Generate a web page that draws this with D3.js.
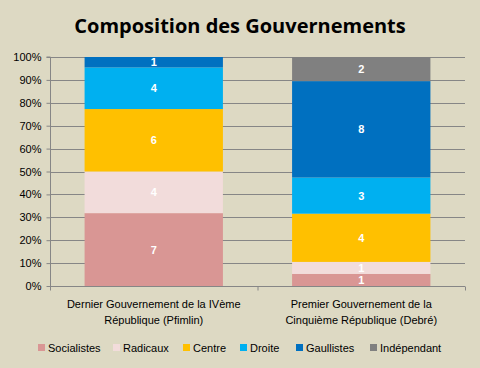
<!DOCTYPE html>
<html><head><meta charset="utf-8">
<script src="https://cdn.jsdelivr.net/npm/d3@7"></script>
<style>body{margin:0;background:#DDD9C3;} svg{display:block;}</style>
</head><body>
<svg id="c" width="480" height="368"></svg>
<script>
const categories = ["Dernier Gouvernement de la IVème République (Pfimlin)", "Premier Gouvernement de la Cinquième République (Debré)"];
const categoryLines = [["Dernier Gouvernement de la IVème", "République (Pfimlin)"], ["Premier Gouvernement de la", "Cinquième République (Debré)"]];
const seriesNames = ["Socialistes", "Radicaux", "Centre", "Droite", "Gaullistes", "Indépendant"];
const socialistes = [7, 1];
const radicaux = [4, 1];
const centre = [6, 4];
const droite = [4, 3];
const gaullistes = [1, 8];
const independant = [0, 2];
const colors = ["#D99694", "#F2DCDB", "#FFC000", "#00B0F0", "#0070C0", "#808080"];
const yTicks = [0, 0.1, 0.2, 0.3, 0.4, 0.5, 0.6, 0.7, 0.8, 0.9, 1];

const seriesVals = [socialistes, radicaux, centre, droite, gaullistes, independant];
const data = categories.map((c, i) => {
  const o = {cat: c};
  seriesNames.forEach((s, j) => o[s] = seriesVals[j][i]);
  return o;
});
const stack = d3.stack().keys(seriesNames).offset(d3.stackOffsetExpand);
const layers = stack(data);

const svg = d3.select("#c");
svg.append("rect").attr("width", 480).attr("height", 368).attr("fill", "#DDD9C3");
const font = "'Liberation Sans', Arial, sans-serif";
const L = 50, R = 465, T = 57, B = 286;
const xb = d3.scaleBand().domain(categories).range([L, R]);
const barW = xb.bandwidth() * 2 / 3;
const bx = c => xb(c) + (xb.bandwidth() - barW) / 2;
const y = d3.scaleLinear().domain([0, 1]).range([B, T]);

svg.append("text").attr("x", 240).attr("y", 33).attr("text-anchor", "middle")
  .attr("font-family", "'Open Sans', sans-serif").attr("font-weight", "bold").attr("font-size", 20)
  .attr("fill", "#000").text("Composition des Gouvernements");

// gridlines
svg.append("g").selectAll("line").data(yTicks.slice(1)).join("line")
  .attr("x1", L).attr("x2", R).attr("y1", d => Math.round(y(d)) + 0.5).attr("y2", d => Math.round(y(d)) + 0.5)
  .attr("stroke", "#868686").attr("stroke-width", 1);

// bars
const g = svg.append("g");
layers.forEach((layer, j) => {
  g.append("g").attr("fill", colors[j]).selectAll("rect").data(layer).join("rect")
    .attr("x", d => bx(d.data.cat)).attr("width", barW)
    .attr("y", d => y(d[1])).attr("height", d => y(d[0]) - y(d[1]));
  g.append("g").selectAll("text").data(layer.filter(d => d.data[layer.key] > 0)).join("text")
    .attr("x", d => bx(d.data.cat) + barW / 2)
    .attr("y", d => (y(d[0]) + y(d[1])) / 2 + 4)
    .attr("text-anchor", "middle").attr("font-family", font).attr("font-weight", "bold")
    .attr("font-size", 11).attr("fill", "#fff").text(d => d.data[layer.key]);
});

// y axis
const yAxis = d3.axisLeft(y).tickValues(yTicks).tickFormat(d3.format(".0%")).tickSize(4).tickPadding(5);
const ya = svg.append("g").attr("transform", `translate(${L + 0.5},0)`).call(yAxis);
ya.select(".domain").attr("stroke", "#868686").attr("d", `M-4,${T}H0V${B + 4}`);
ya.selectAll(".tick line").attr("stroke", "#868686");
ya.selectAll("text").attr("font-family", font).attr("font-size", 11).attr("fill", "#000");

// x axis
const xa = svg.append("g").attr("transform", `translate(0,${B + 0.5})`);
xa.append("line").attr("x1", L).attr("x2", R).attr("stroke", "#868686");
xa.selectAll("line.t").data([L, xb(categories[1]), R]).join("line").attr("class", "t")
  .attr("x1", d => d + 0.5).attr("x2", d => d + 0.5).attr("y1", 0).attr("y2", 4).attr("stroke", "#868686");
categories.forEach((c, i) => {
  const t = svg.append("text").attr("text-anchor", "middle").attr("font-family", font)
    .attr("font-size", 11).attr("fill", "#000");
  categoryLines[i].forEach((ln, k) => {
    t.append("tspan").attr("x", xb(c) + xb.bandwidth() / 2).attr("y", 308 + k * 16).text(ln);
  });
});

// legend
const legX = [38, 113, 183, 240, 296, 370];
const lg = svg.append("g");
seriesNames.forEach((s, j) => {
  lg.append("rect").attr("x", legX[j]).attr("y", 344).attr("width", 7).attr("height", 7).attr("fill", colors[j]);
  lg.append("text").attr("x", legX[j] + 10).attr("y", 352).attr("font-family", font).attr("font-size", 11)
    .attr("fill", "#000").text(s);
});
</script>
</body></html>
